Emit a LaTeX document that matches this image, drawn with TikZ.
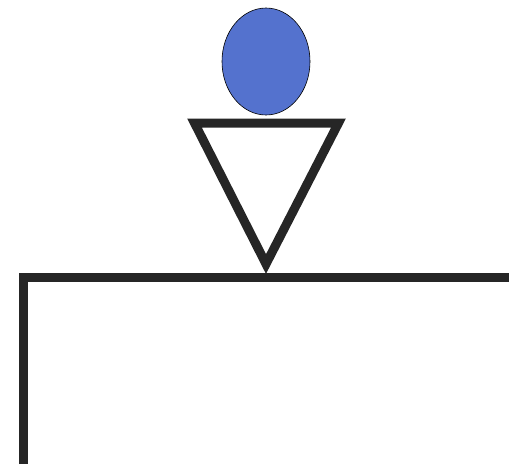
\documentclass[tikz,border=0pt]{standalone}
\usepackage{tikz}
\usetikzlibrary{positioning}
\usetikzlibrary{shapes.geometric}
\definecolor{ballblue}{RGB}{84,114,206}

\begin{document}
\begin{tikzpicture}[x=1pt, y=-1pt, thickline/.style={line width=9pt, draw={black!85}}]
    \useasboundingbox (0,0) rectangle (509,464);

    % ball on top
    \node [ellipse, draw, semithick, fill=ballblue, minimum width=88pt, minimum height=107pt, inner sep=0pt] (ball) at (266,61.5) {};

    % inverted triangle
    \coordinate (tl) at (194.5,123);
    \coordinate (tr) at (338.5,123);
    \coordinate (tip) at (266,264);
    \draw [thickline, line join=miter] (tl) -- (tr) -- (tip) -- cycle;

    % table
    \coordinate (leg) at (23.5,464);
    \coordinate (corner) at (23.5,277);
    \coordinate (edge) at (509,277);
    \draw [thickline, line join=miter] (leg) -- (corner) -- (edge);

\end{tikzpicture}
\end{document}
